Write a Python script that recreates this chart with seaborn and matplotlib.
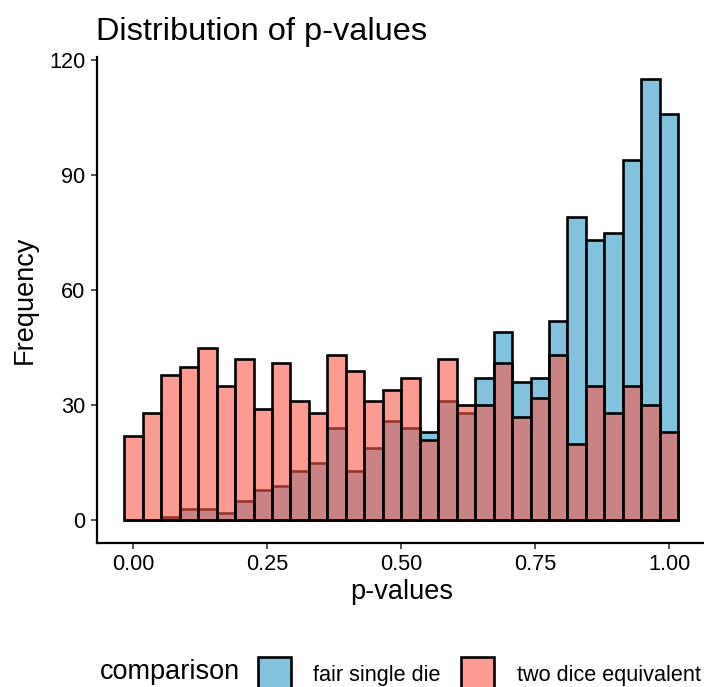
import numpy as np
import pandas as pd
import seaborn as sns
from matplotlib import pyplot as plt
from matplotlib.patches import Patch

# bin centres (30 bins over the p-value range) and counts
bin_centers = np.linspace(0, 1, 30)
fair_single_die = [0, 0, 1, 3, 3, 2, 5, 8, 9, 13, 15, 24, 13, 19, 26,
                   24, 23, 31, 28, 37, 49, 36, 37, 52, 79, 73, 75, 94, 115, 106]
two_dice_equivalent = [22, 28, 38, 40, 45, 35, 42, 29, 41, 31, 28, 43, 39, 31, 34,
                       37, 21, 42, 30, 30, 41, 27, 32, 43, 20, 35, 28, 35, 30, 23]
groups = ["fair single die", "two dice equivalent"]
colors = {"fair single die": "#82C2DE", "two dice equivalent": "#F95948"}
alphas = {"fair single die": 1.0, "two dice equivalent": 0.6}

df = pd.DataFrame({
    "p": np.concatenate([bin_centers, bin_centers]),
    "n": fair_single_die + two_dice_equivalent,
    "comparison": [groups[0]] * 30 + [groups[1]] * 30,
})

sns.set_theme(style="ticks")
plt.rcParams["font.family"] = ["Liberation Sans", "DejaVu Sans"]
plt.rcParams["text.color"] = "black"
plt.rcParams["axes.labelcolor"] = "black"

base = 19.5
lw = 1.9
fig = plt.figure(figsize=(7.04, 6.87), dpi=100)
ax = fig.add_axes([96.5 / 704, 1 - 542.5 / 687, (706 - 96.5) / 704, (542.5 - 57) / 687])

half = 0.5 / 29
edges = np.linspace(-half, 1 + half, 31).tolist()
for g in groups:
    sub = df[df["comparison"] == g]
    sns.histplot(data=sub, x="p", weights="n", bins=edges, ax=ax,
                 color=colors[g], alpha=alphas[g], edgecolor="black",
                 linewidth=lw)

ax.set_xlim(-0.069, 1.069)
ax.set_ylim(-5.75, 120.75)
ax.set_xticks([0, 0.25, 0.5, 0.75, 1.0])
ax.set_xticklabels(["0.00", "0.25", "0.50", "0.75", "1.00"])
ax.set_yticks([0, 30, 60, 90, 120])
ax.tick_params(labelsize=base * 0.8, length=4, width=1.2, color="#333333",
               labelcolor="black", pad=4)
for s in ["top", "right"]:
    ax.spines[s].set_visible(False)
for s in ["left", "bottom"]:
    ax.spines[s].set_linewidth(1.6)
    ax.spines[s].set_color("black")
ax.set_xlabel("p-values", fontsize=base, labelpad=3, color="black")
ax.set_ylabel("Frequency", fontsize=base, labelpad=8, color="black")
ax.set_title("Distribution of p-values", fontsize=base * 1.2, loc="left",
             x=0.0, pad=12, color="black")

fig.text(100 / 704, 1 - 672 / 687, "comparison", fontsize=base,
         ha="left", va="center", color="black")
handles = [Patch(facecolor=colors[g], alpha=alphas[g], edgecolor="black",
                 linewidth=lw) for g in groups]
# keep the legend key outlines solid like the bars
handles[1].set_alpha(None)
handles[1].set_facecolor((249 / 255, 89 / 255, 72 / 255, 0.6))
leg = fig.legend(handles, groups, ncol=2, loc="center left",
                 bbox_to_anchor=(258 / 704, 1 - 674 / 687), frameon=False,
                 fontsize=base * 0.8, handlelength=1.5, handleheight=2.0,
                 handletextpad=1.05, columnspacing=0.95, borderpad=0,
                 borderaxespad=0)
for t in leg.get_texts():
    t.set_color("black")

fig.savefig("out.png", dpi=100)
